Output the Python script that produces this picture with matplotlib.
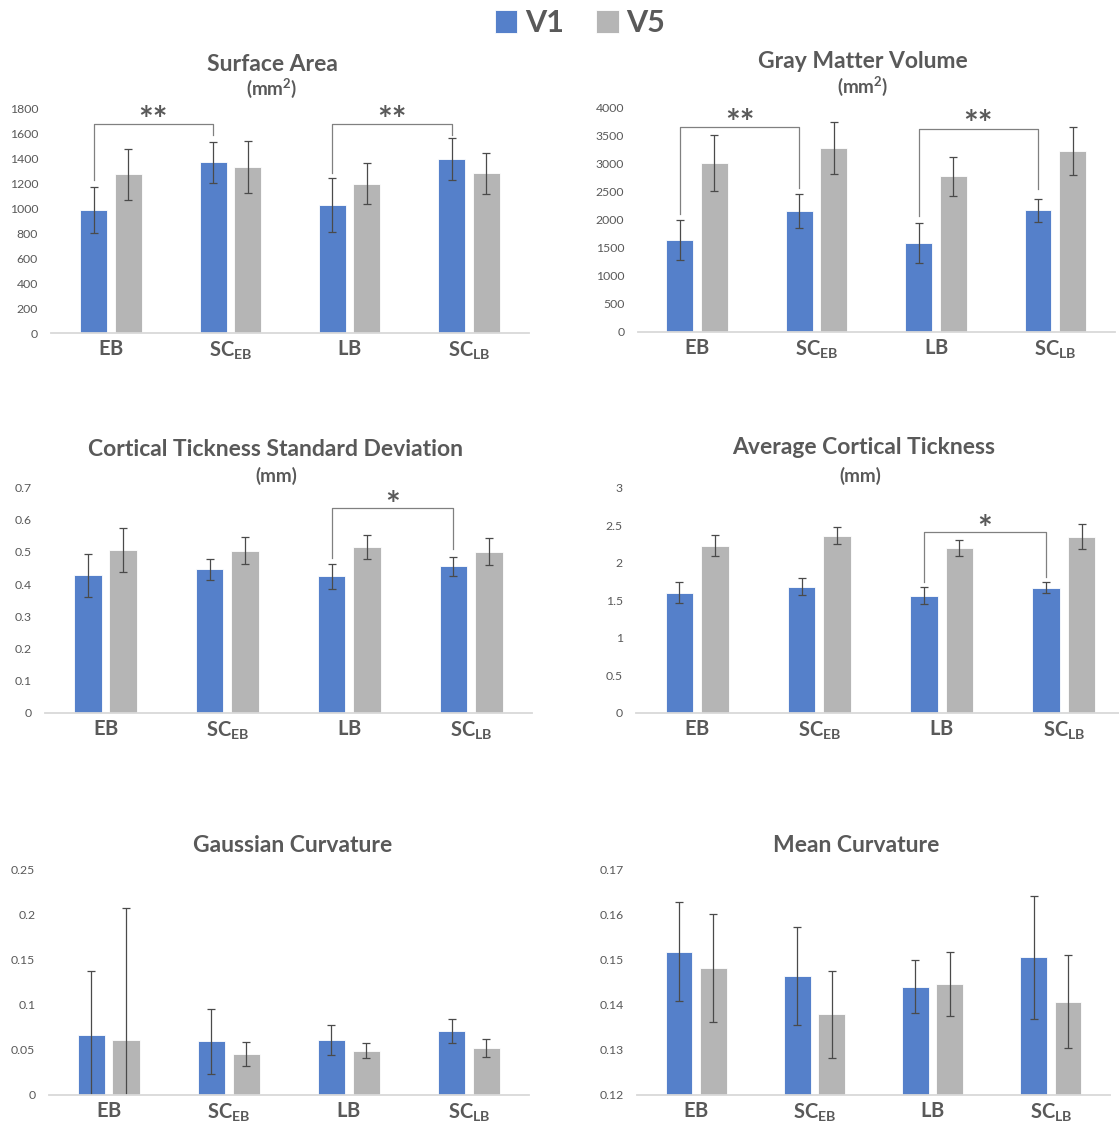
import numpy as np
import matplotlib
matplotlib.use("Agg")
import matplotlib.pyplot as plt

# ---- data -------------------------------------------------------------
categories = [r"$\mathbf{EB}$", r"$\mathbf{SC}_{\mathbf{EB}}$",
              r"$\mathbf{LB}$", r"$\mathbf{SC}_{\mathbf{LB}}$"]
series_names = ["V1", "V5"]

surface_v1 = [985, 1365, 1024, 1392]
surface_v1_err = [182, 165, 215, 165]
surface_v5 = [1269, 1328, 1195, 1277]
surface_v5_err = [207, 205, 163, 167]

gmv_v1 = [1637, 2145, 1589, 2162]
gmv_v1_err = [352, 302, 355, 207]
gmv_v5 = [3001, 3273, 2765, 3220]
gmv_v5_err = [494, 467, 355, 425]

ctsd_v1 = [0.427, 0.446, 0.424, 0.455]
ctsd_v1_err = [0.067, 0.032, 0.039, 0.029]
ctsd_v5 = [0.507, 0.504, 0.516, 0.501]
ctsd_v5_err = [0.068, 0.042, 0.037, 0.042]

act_v1 = [1.600, 1.680, 1.560, 1.667]
act_v1_err = [0.143, 0.110, 0.115, 0.070]
act_v5 = [2.227, 2.360, 2.200, 2.347]
act_v5_err = [0.138, 0.115, 0.105, 0.170]

gauss_v1 = [0.0666, 0.0592, 0.0607, 0.0710]
gauss_v1_err = [0.071, 0.036, 0.0167, 0.0133]
gauss_v5 = [0.0610, 0.0451, 0.0488, 0.0518]
gauss_v5_err = [0.146, 0.0128, 0.0080, 0.0104]

mean_v1 = [0.1517, 0.1463, 0.1440, 0.1505]
mean_v1_err = [0.0110, 0.0108, 0.0059, 0.0136]
mean_v5 = [0.1481, 0.1378, 0.1445, 0.1406]
mean_v5_err = [0.0119, 0.0097, 0.0071, 0.0103]

# ---- style ------------------------------------------------------------
plt.rcParams["font.family"] = ["Lato", "DejaVu Sans"]
plt.rcParams["mathtext.fontset"] = "custom"
plt.rcParams["mathtext.rm"] = "Lato"
plt.rcParams["mathtext.bf"] = "Lato:bold"
plt.rcParams["mathtext.it"] = "Lato:italic"

BLUE = "#5580CA"
GRAY = "#B5B5B5"
TEXT = "#595959"
ERR = "#4A4A4A"

W, H = 1119, 1122
fig = plt.figure(figsize=(W / 100, H / 100), dpi=100)
fig.patch.set_facecolor("white")


def px_axes(left, right, top, bottom):
    return fig.add_axes([left / W, 1 - bottom / H, (right - left) / W, (bottom - top) / H])


def draw_panel(ax, v1, v1e, v5, v5e, ylim, yticks, fmt):
    x = np.arange(len(categories))
    width, off = 0.226, 0.145
    ekw = dict(ecolor=ERR, elinewidth=0.9, capsize=3.2, capthick=0.9)
    b1 = ax.bar(x - off, v1, width, yerr=v1e, color=BLUE, edgecolor="white",
                linewidth=0.6, error_kw=ekw, label=series_names[0])
    b2 = ax.bar(x + off, v5, width, yerr=v5e, color=GRAY, edgecolor="white",
                linewidth=0.6, error_kw=ekw, label=series_names[1])
    ax.set_xlim(-0.5, len(categories) - 0.5)
    ax.set_ylim(*ylim)
    ax.set_yticks(yticks)
    ax.set_yticklabels([fmt(t) for t in yticks])
    ax.set_xticks(x)
    ax.set_xticklabels(categories)
    for s in ("top", "right", "left"):
        ax.spines[s].set_visible(False)
    ax.spines["bottom"].set_color("#D9D9D9")
    ax.spines["bottom"].set_linewidth(1.3)
    ax.tick_params(axis="y", length=0, pad=9.5, labelsize=8.8, labelcolor=TEXT)
    ax.tick_params(axis="x", length=0, pad=4.5, labelsize=14.5, labelcolor=TEXT)
    ax.set_facecolor("none")
    return b1, b2


def bracket(ax, i, j, y_left, y_right, y_top, stars, star_y):
    off = 0.145
    xl, xr = i - off, j - off
    ax.plot([xl, xl, xr, xr], [y_left, y_top, y_top, y_right], color="#808080",
            lw=0.9, clip_on=False)
    ax.text((xl + xr) / 2, star_y, stars, ha="center", va="center",
            fontsize=25, fontweight="bold", color=TEXT)


def title(cx, base, text, size=16.5):
    fig.text(cx / W, 1 - base / H, text, ha="center", va="baseline",
             fontsize=size, fontweight="bold", color=TEXT)


fmt_int = lambda t: f"{t:g}"

# Surface area
ax1 = px_axes(51.3, 528.7, 108, 333)
handles = draw_panel(ax1, surface_v1, surface_v1_err, surface_v5, surface_v5_err,
                     (0, 1800), np.arange(0, 1801, 200), fmt_int)
bracket(ax1, 0, 1, 1224, 1584, 1670, "**", 1700)
bracket(ax1, 2, 3, 1280, 1584, 1670, "**", 1700)
title(272, 71, "Surface Area")
title(272, 95, r"(mm$^{\mathbf{2}}$)", 13.5)

# Gray matter volume
ax2 = px_axes(637.5, 1115, 107, 332)
draw_panel(ax2, gmv_v1, gmv_v1_err, gmv_v5, gmv_v5_err,
           (0, 4000), np.arange(0, 4001, 500), fmt_int)
bracket(ax2, 0, 1, 2098, 2554, 3639, "**", 3700)
bracket(ax2, 2, 3, 2068, 2542, 3614, "**", 3680)
title(863, 68, "Gray Matter Volume")
title(863, 93, r"(mm$^{\mathbf{2}}$)", 13.5)

# Cortical thickness standard deviation
ax3 = px_axes(44.6, 532, 487.7, 712.7)
draw_panel(ax3, ctsd_v1, ctsd_v1_err, ctsd_v5, ctsd_v5_err,
           (0, 0.7), np.round(np.arange(0, 0.71, 0.1), 1), fmt_int)
bracket(ax3, 2, 3, 0.480, 0.508, 0.638, "*", 0.642)
title(276, 456, "Cortical Tickness Standard Deviation")
title(276, 482, "(mm)", 13.5)

# Average cortical thickness
ax4 = px_axes(636, 1125, 487.7, 712.7)
draw_panel(ax4, act_v1, act_v1_err, act_v5, act_v5_err,
           (0, 3), np.arange(0, 3.01, 0.5), fmt_int)
bracket(ax4, 2, 3, 1.747, 1.805, 2.413, "*", 2.43)
title(864, 454, "Average Cortical Tickness")
title(860, 482, "(mm)", 13.5)

# Gaussian curvature
ax5 = px_axes(48.5, 529, 869.3, 1094.7)
draw_panel(ax5, gauss_v1, gauss_v1_err, gauss_v5, gauss_v5_err,
           (0, 0.25), np.round(np.arange(0, 0.251, 0.05), 2), fmt_int)
title(293, 852, "Gaussian Curvature")

# Mean curvature
ax6 = px_axes(637, 1110, 869.3, 1094.7)
draw_panel(ax6, mean_v1, mean_v1_err, mean_v5, mean_v5_err,
           (0.12, 0.17), np.round(np.arange(0.12, 0.1701, 0.01), 2), fmt_int)
title(856, 852, "Mean Curvature")

# Shared legend
leg = fig.legend(handles=list(handles), labels=series_names, loc="center",
                 bbox_to_anchor=(580 / W, 1 - 23 / H), ncol=2, frameon=False,
                 handlelength=0.75, handleheight=0.75, handletextpad=0.25,
                 columnspacing=1.05, prop={"family": "Lato", "weight": "bold", "size": 22})
for t in leg.get_texts():
    t.set_color(TEXT)

fig.savefig("out.png", dpi=100, facecolor="white")
